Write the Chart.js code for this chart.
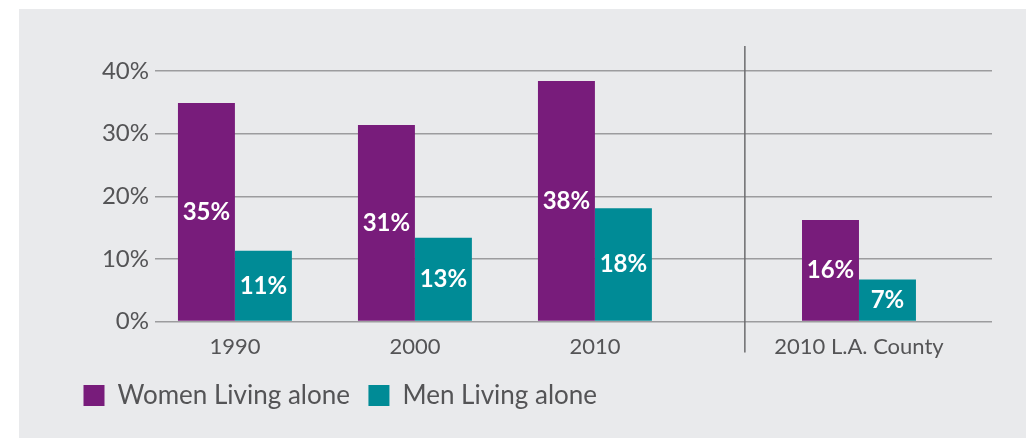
<!DOCTYPE html>
<html lang="en">
<head>
  <meta charset="UTF-8" />
  <title>Living Alone</title>
  <script src="https://cdn.jsdelivr.net/npm/chart.js"></script>
  <style>
    html, body {
      margin: 0;
      padding: 0;
      background: #ffffff;
    }

    .panel {
      position: absolute;
      left: 19px;
      top: 9px;
      width: 1007px;
      height: 429px;
      background: #e9eaec;
    }
  </style>
</head>

<body>
  <div class="panel">
    <canvas id="livingAloneChart"></canvas>
  </div>

  <script>
    // chart data
    const groups = ["1990", "2000", "2010", "2010 L.A. County"];
    const womenAlone = [34.9, 31.4, 38.4, 16.2];
    const menAlone = [11.3, 13.4, 18.1, 6.7];
    const seriesNames = ["Women Living alone", "Men Living alone"];
    const yTicks = [0, 10, 20, 30, 40];

    // the L.A. County group sits a bit further right, past the divider
    const countyGap = 0.467;
    const dividerAt = 2.833;
    const slotOf = (i) => i + (i >= 3 ? countyGap : 0);

    const textColor = "#545456";
    const fontFamily = "Lato, 'Open Sans', sans-serif";

    const toPoints = (vals) => vals.map((v, i) => ({ x: slotOf(i), y: v }));

    // white % labels centred inside each bar
    const barLabels = {
      id: "barLabels",
      afterDatasetsDraw(chart) {
        const { ctx } = chart;
        ctx.save();
        ctx.fillStyle = "#ffffff";
        ctx.font = "bold 24px " + fontFamily;
        ctx.textAlign = "center";
        ctx.textBaseline = "middle";
        chart.data.datasets.forEach((ds, di) => {
          chart.getDatasetMeta(di).data.forEach((bar, i) => {
            const val = ds.data[i].y;
            ctx.fillText(Math.round(val) + "%", bar.x, (bar.y + bar.base) / 2);
          });
        });
        ctx.restore();
      }
    };

    // vertical rule between the trend years and the county bar
    const divider = {
      id: "divider",
      afterDraw(chart) {
        const { ctx, chartArea } = chart;
        const x = chart.scales.x.getPixelForValue(dividerAt);
        ctx.save();
        ctx.strokeStyle = "#6b6b6d";
        ctx.lineWidth = 1.5;
        ctx.beginPath();
        ctx.moveTo(x, chartArea.top - 25);
        ctx.lineTo(x, chartArea.bottom + 31);
        ctx.stroke();
        ctx.restore();
      }
    };

    new Chart(document.getElementById("livingAloneChart"), {
      type: "bar",
      data: {
        datasets: [
          {
            label: seriesNames[0],
            data: toPoints(womenAlone),
            backgroundColor: "#781c7b"
          },
          {
            label: seriesNames[1],
            data: toPoints(menAlone),
            backgroundColor: "#008b96"
          }
        ]
      },
      options: {
        responsive: true,
        maintainAspectRatio: false,
        animation: false,
        categoryPercentage: 0.633,
        barPercentage: 1,
        layout: {
          padding: { left: 46, right: 34, top: 62, bottom: 19.5 }
        },
        plugins: {
          tooltip: { enabled: false },
          legend: {
            position: "bottom",
            align: "start",
            labels: {
              boxWidth: 21,
              boxHeight: 21,
              padding: 18.5,
              color: textColor,
              font: { family: fontFamily, size: 26 }
            }
          }
        },
        scales: {
          x: {
            type: "linear",
            offset: false,
            min: -0.444,
            max: 4.206,
            grid: { display: false },
            border: { display: false },
            afterBuildTicks: (scale) => {
              scale.ticks = groups.map((g, i) => ({ value: slotOf(i) }));
            },
            ticks: {
              padding: 4,
              color: textColor,
              font: { family: fontFamily, size: 22 },
              callback: (value, index) => groups[index]
            }
          },
          y: {
            min: 0,
            max: 40,
            afterBuildTicks: (scale) => {
              scale.ticks = yTicks.map((v) => ({ value: v }));
            },
            grid: {
              color: "#9c9c9e",
              lineWidth: 1.5,
              drawTicks: false
            },
            border: { display: false },
            afterFit: (scale) => {
              scale.width = 90;
            },
            ticks: {
              padding: 6,
              color: textColor,
              font: { family: fontFamily, size: 24 },
              callback: (value) => value + "%"
            }
          }
        }
      },
      plugins: [barLabels, divider]
    });
  </script>
</body>
</html>
